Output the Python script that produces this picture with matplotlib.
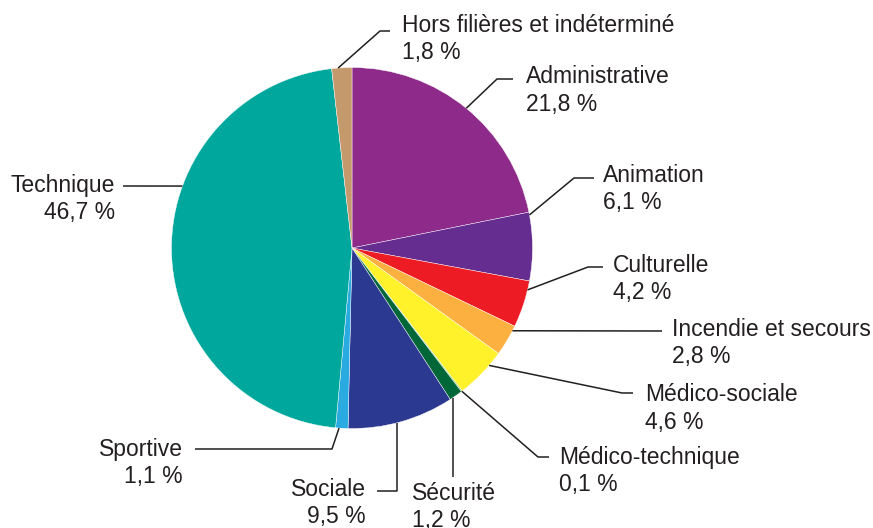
import numpy as np
import matplotlib.pyplot as plt

plt.rcParams['font.family'] = ['Liberation Sans', 'DejaVu Sans']

categories = ["Administrative", "Animation", "Culturelle", "Incendie et secours",
              "Médico-sociale", "Médico-technique", "Sécurité", "Sociale",
              "Sportive", "Technique", "Hors filières et indéterminé"]
shares = [21.8, 6.1, 4.2, 2.8, 4.6, 0.1, 1.2, 9.5, 1.1, 46.7, 1.8]
colors = ["#8E2A8A", "#662D91", "#ED1C24", "#FBB040", "#FFF12A", "#8DC63F",
          "#006838", "#2B3990", "#29ABE2", "#00A79D", "#C49A6C"]

# leader layout (pixels): position inside the wedge, elbow, line end, text anchor, alignment
# elbow = None -> straight line, elbow x = None -> vertical drop from the wedge
layout = [
    (0.50, (497, 79), (513, 79), (526, 83), "left"),
    (0.04, (574, 178), (594, 178), (603, 182), "left"),
    (0.19, (588, 267), (603, 267), (613, 272), "left"),
    (0.16, None, (662, 331), (672, 336), "left"),
    (0.29, (622, 393), (633, 393), (645, 401), "left"),
    (0.50, (538, 457), (549, 457), (559, 464), "left"),
    (0.755, None, (None, 477), (412, 500), "left"),
    (0.54, (None, 491), (377, 491), (366, 496), "right"),
    (0.72, (332, 449), (195, 449), (183, 456), "right"),
    (0.623, None, (123, 186), (115, 192), "right"),
    (0.32, (380, 31), (390, 31), (402, 32), "left"),
]

W, H = 873, 528
cx, cy, r = 352, 248, 180.5
ink = "#231F20"

fig = plt.figure(figsize=(W / 100, H / 100), dpi=100)
ax = fig.add_axes([0, 0, 1, 1])
ax.pie(shares, colors=colors, startangle=-90, counterclock=True,
       center=(cx, cy), radius=r,
       wedgeprops=dict(edgecolor="white", linewidth=0.3))
ax.set_xlim(0, W)
ax.set_ylim(H, 0)
ax.axis('off')

total = sum(shares)
cum = np.concatenate([[0], np.cumsum(shares)])
for i, (name, val) in enumerate(zip(categories, shares)):
    t, elbow, end, txt, ha = layout[i]
    phi = np.radians(360 * (cum[i] + t * val) / total)
    sx = cx + r * np.sin(phi)
    sy = cy - r * np.cos(phi)
    xs, ys = [sx], [sy]
    if elbow is not None:
        ex = sx if elbow[0] is None else elbow[0]
        xs.append(ex)
        ys.append(elbow[1])
    if end[0] is None:
        xs.append(sx)
    else:
        xs.append(end[0])
    ys.append(end[1])
    ax.plot(xs, ys, color=ink, lw=1.1, solid_capstyle='butt')
    pct = f"{val:.1f}".replace(".", ",") + " %"
    ax.text(txt[0], txt[1], name, ha=ha, va='baseline', fontsize=16.5, color=ink)
    ax.text(txt[0], txt[1] + 27.5, pct, ha=ha, va='baseline', fontsize=16.5, color=ink)

fig.savefig("out.png", dpi=100)
